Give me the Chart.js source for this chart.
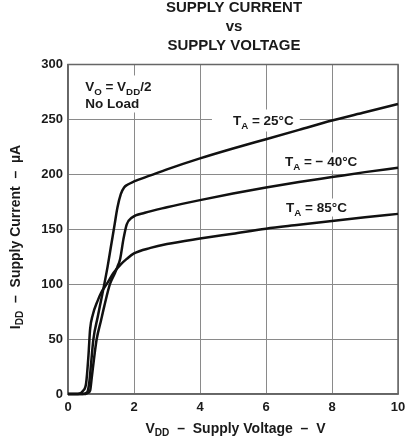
<!DOCTYPE html>
<html>
<head>
<meta charset="utf-8">
<script src="https://cdn.jsdelivr.net/npm/chart.js@4.4.1/dist/chart.umd.min.js"></script>
<style>
  html, body { margin: 0; padding: 0; background: #fff; }
  #wrap { width: 406px; height: 436px; position: relative; }
</style>
</head>
<body>
<div id="wrap"><canvas id="c" width="406" height="436"></canvas></div>
<script>
// ---- Data ----
const xTicks = [0, 2, 4, 6, 8, 10];
const yTicks = [0, 50, 100, 150, 200, 250, 300];

const vdd25 = [0, 0.45, 0.55, 0.6, 0.65, 0.7, 0.77, 0.9, 1.0, 1.1, 1.2, 1.3, 1.4, 1.5, 1.6, 1.7, 1.8, 2.0, 2.5, 3, 4, 5, 6, 7, 8, 9, 10];
const idd25 = [0, 0, 1, 3, 12, 28, 50, 70, 85, 100, 116, 134, 152, 170, 182, 188, 190.5, 193.5, 199, 204.5, 214.5, 223.5, 232, 240.5, 249, 256.5, 264];

const vddM40 = [0, 0.5, 0.6, 0.67, 0.72, 0.8, 0.87, 1.0, 1.1, 1.27, 1.42, 1.5, 1.58, 1.68, 1.78, 1.93, 2.33, 3, 4, 5, 6, 7, 8, 9, 10];
const iddM40 = [0, 0, 1, 3, 15, 35, 50, 67, 80, 100, 110, 116, 123, 141, 154.5, 160.5, 165, 170, 176.5, 182.5, 188, 193, 197.5, 202, 206];

const vdd85 = [0, 0.3, 0.46, 0.55, 0.62, 0.67, 0.75, 0.9, 1.0, 1.17, 1.4, 1.6, 1.78, 2.0, 2.5, 3, 4, 5, 6, 7, 8, 9, 10];
const idd85 = [0, 0, 3, 10, 35, 59, 72, 85, 92, 100, 111, 118, 123, 128, 133, 136.5, 141.5, 146, 150.5, 154, 157.5, 161, 164];

const titleLines = ['SUPPLY CURRENT', 'vs', 'SUPPLY VOLTAGE'];

function pts(xs, ys) { return xs.map((x, i) => ({ x: x, y: ys[i] })); }

const FONT = "'Liberation Sans', Arial, Helvetica, sans-serif";

// rich text parts: [text, isSub]
function richWidth(ctx, parts, size) {
  let w = 0;
  for (const [t, sub] of parts) {
    ctx.font = 'bold ' + (sub ? size * 0.72 : size) + 'px ' + FONT;
    w += ctx.measureText(t).width;
  }
  return w;
}
function drawRich(ctx, parts, x, y, size, align) {
  const w = richWidth(ctx, parts, size);
  let cx = align === 'center' ? x - w / 2 : (align === 'right' ? x - w : x);
  ctx.textBaseline = 'alphabetic';
  ctx.textAlign = 'left';
  for (const [t, sub] of parts) {
    ctx.font = 'bold ' + (sub ? size * 0.72 : size) + 'px ' + FONT;
    ctx.fillText(t, cx, sub ? y + size * 0.28 : y);
    cx += ctx.measureText(t).width;
  }
  return w;
}

const annoPlugin = {
  id: 'anno',
  beforeDatasetsDraw(chart) {
    const ctx = chart.ctx;
    const xs = chart.scales.x, ys = chart.scales.y;
    ctx.save();
    const labels = [
      { parts: [['T', false], ['A', true], [' = 25°C', false]], vx: 5.92, vy: 249, padL: 21, padR: 6, padV: 11 },
      { parts: [['T', false], ['A', true], [' = \u2212 40°C', false]], vx: 7.67, vy: 211.7, padL: 5, padR: 5, padV: 9 },
      { parts: [['T', false], ['A', true], [' = 85°C', false]], vx: 7.53, vy: 169.8, padL: 5, padR: 5, padV: 9 }
    ];
    const size = 13.5;
    for (const L of labels) {
      const cx = xs.getPixelForValue(L.vx), cy = ys.getPixelForValue(L.vy);
      const w = richWidth(ctx, L.parts, size);
      ctx.fillStyle = '#fff';
      ctx.fillRect(cx - w / 2 - L.padL, cy - L.padV, w + L.padL + L.padR, 2 * L.padV);
      ctx.fillStyle = '#1a1a1a';
      drawRich(ctx, L.parts, cx, cy + size * 0.36, size, 'center');
    }
    // Conditions box
    const lx = xs.getPixelForValue(0.52);
    const y1 = ys.getPixelForValue(280), y2 = ys.getPixelForValue(264.5);
    const p1 = [['V', false], ['O', true], [' = V', false], ['DD', true], ['/2', false]];
    const w1 = richWidth(ctx, p1, size);
    ctx.fillStyle = '#fff';
    ctx.fillRect(lx - 7, y1 - 11, w1 + 14, (y2 - y1) + 20);
    ctx.fillStyle = '#1a1a1a';
    drawRich(ctx, p1, lx, y1 + size * 0.36, size, 'left');
    drawRich(ctx, [['No Load', false]], lx, y2 + size * 0.36, size, 'left');
    ctx.restore();
  },
  afterDraw(chart) {
    const ctx = chart.ctx;
    const ca = chart.chartArea;
    ctx.save();
    ctx.fillStyle = '#1a1a1a';
    // Title
    const tcx = (ca.left + ca.right) / 2 + 1;
    ctx.font = 'bold 15px ' + FONT;
    ctx.textAlign = 'center';
    ctx.textBaseline = 'alphabetic';
    const bases = [11.8, 30.8, 49.8];
    titleLines.forEach((t, i) => ctx.fillText(t, tcx, bases[i]));
    // X title
    drawRich(ctx, [['V', false], ['DD', true], ['  \u2013  Supply Voltage  \u2013  V', false]], 235.5, 432.5, 14, 'center');
    // Y title
    ctx.translate(19.5, 237);
    ctx.rotate(-Math.PI / 2);
    drawRich(ctx, [['I', false], ['DD', true], ['  \u2013  Supply Current  \u2013  \u00B5A', false]], 0, 0, 14, 'center');
    ctx.restore();
  }
};

const lineStyle = {
  borderColor: '#111',
  borderWidth: 2.5,
  pointRadius: 0,
  fill: false,
  cubicInterpolationMode: 'monotone',
  clip: 4
};

new Chart(document.getElementById('c'), {
  type: 'line',
  data: {
    datasets: [
      Object.assign({ label: 'TA = 25°C', data: pts(vdd25, idd25) }, lineStyle),
      Object.assign({ label: 'TA = -40°C', data: pts(vddM40, iddM40) }, lineStyle),
      Object.assign({ label: 'TA = 85°C', data: pts(vdd85, idd85) }, lineStyle)
    ]
  },
  options: {
    responsive: false,
    animation: false,
    devicePixelRatio: 1,
    layout: { padding: { left: 0, right: 8, top: 64.5, bottom: 0 } },
    plugins: { legend: { display: false }, title: { display: false }, tooltip: { enabled: false } },
    scales: {
      x: {
        type: 'linear',
        min: 0, max: 10,
        afterFit(s) { s.height = 42; s.paddingLeft = 0; s.paddingRight = 0; },
        afterBuildTicks(s) { s.ticks = xTicks.map(v => ({ value: v })); },
        ticks: { color: '#1a1a1a', font: { family: FONT, size: 13, weight: 'bold' }, padding: 6, maxRotation: 0 },
        grid: { color: '#8a8a8a', lineWidth: 1, drawTicks: false },
        border: { color: '#666', width: 1.5 }
      },
      y: {
        type: 'linear',
        min: 0, max: 300,
        afterFit(s) { s.width = 68; s.paddingTop = 0; s.paddingBottom = 0; },
        afterBuildTicks(s) { s.ticks = yTicks.map(v => ({ value: v })); },
        ticks: { color: '#1a1a1a', font: { family: FONT, size: 13, weight: 'bold' }, padding: 5 },
        grid: { color: '#8a8a8a', lineWidth: 1, drawTicks: false },
        border: { color: '#666', width: 1.5 }
      }
    }
  },
  plugins: [annoPlugin, {
    id: 'frame',
    beforeDatasetsDraw(chart) {
      const ca = chart.chartArea, ctx = chart.ctx;
      ctx.save();
      ctx.strokeStyle = '#666';
      ctx.lineWidth = 1.5;
      ctx.strokeRect(ca.left, ca.top, ca.right - ca.left, ca.bottom - ca.top);
      ctx.restore();
    }
  }]
});
</script>
</body>
</html>
